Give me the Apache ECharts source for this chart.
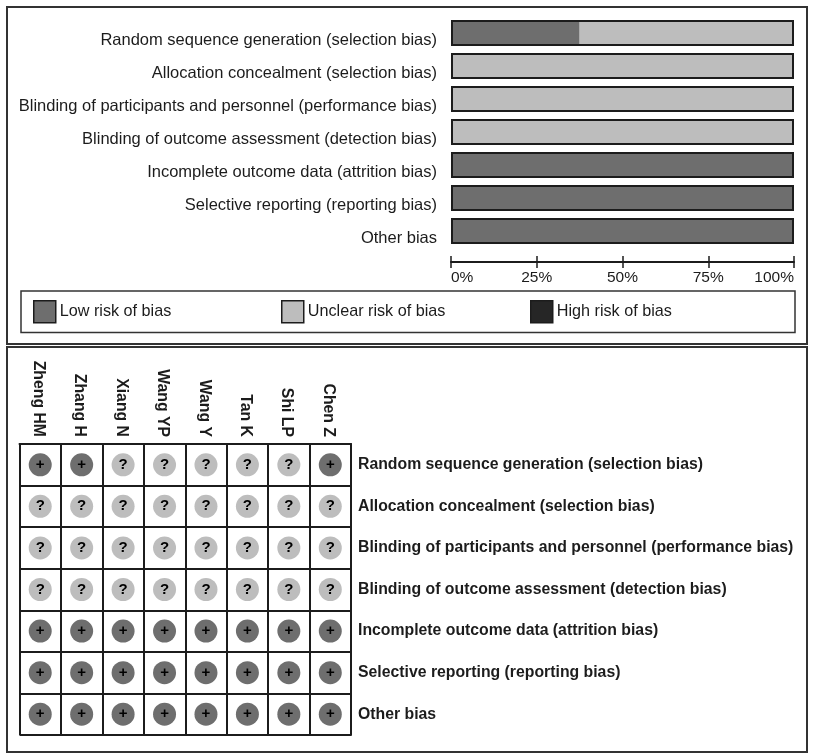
<!DOCTYPE html>
<html><head><meta charset="utf-8">
<style>html,body{margin:0;padding:0;background:#fff}#c{width:813px;height:755px}</style>
<script src="https://cdn.jsdelivr.net/npm/echarts@6/dist/echarts.min.js"></script>
</head><body><div id="c"></div>
<script>
const domains = ['Random sequence generation (selection bias)','Allocation concealment (selection bias)','Blinding of participants and personnel (performance bias)','Blinding of outcome assessment (detection bias)','Incomplete outcome data (attrition bias)','Selective reporting (reporting bias)','Other bias'];
const lowRisk = [37.5,0,0,0,100,100,100];
const unclearRisk = [62.5,100,100,100,0,0,0];
const highRisk = [0,0,0,0,0,0,0];
const outline = [100,100,100,100,100,100,100];
const percentTicks = [0,25,50,75,100];
const studies = ['Zheng HM','Zhang H','Xiang N','Wang YP','Wang Y','Tan K','Shi LP','Chen Z'];
const judgments = [
  ['+','+','?','?','?','?','?','+'],
  ['?','?','?','?','?','?','?','?'],
  ['?','?','?','?','?','?','?','?'],
  ['?','?','?','?','?','?','?','?'],
  ['+','+','+','+','+','+','+','+'],
  ['+','+','+','+','+','+','+','+'],
  ['+','+','+','+','+','+','+','+']
];
const LOW='#6e6e6e', UNCLEAR='#bdbdbd', HIGH='#262626', INK='#1c1c1c';
const FONT='"Liberation Sans",Arial,sans-serif';
const cells=(code)=>{const o=[];judgments.forEach((r,y)=>r.forEach((j,x)=>{if(j===code)o.push([x,y]);}));return o;};
const barSeries=(name,data,color)=>({name,type:'bar',stack:'risk',xAxisIndex:0,yAxisIndex:0,data,barWidth:26,itemStyle:{color},silent:true});
const dotSeries=(name,code,color,labelSize)=>({name,type:'scatter',xAxisIndex:2,yAxisIndex:1,data:cells(code),symbol:'circle',symbolSize:23,
  itemStyle:{color,opacity:1},silent:true,label:{show:true,position:'inside',formatter:code,color:'#000',textBorderWidth:0,fontFamily:FONT,fontWeight:'bold',fontSize:labelSize}});
const legendAt=(name,left)=>({data:[{name,icon:'rect'}],left,top:300,padding:0,itemWidth:22,itemHeight:22,itemGap:0,selectedMode:false,
  itemStyle:{borderColor:INK,borderWidth:1.5},textStyle:{fontFamily:FONT,fontSize:16.2,color:INK,verticalAlign:'top',lineHeight:5,padding:[0,0,0,-1]}});
const rect=(x,y,w,h,lw)=>({type:'rect',silent:true,z:-5,shape:{x,y,width:w,height:h},style:{fill:'#fff',stroke:'#333',lineWidth:lw}});
const chart=echarts.init(document.getElementById('c'),null,{renderer:'canvas'});
chart.setOption({
  animation:false,backgroundColor:'#fff',
  graphic:[rect(7,7,800,337,2),rect(7,347,800,405,2),rect(21,291,774,41.5,1.5)],
  legend:[legendAt('Low risk of bias',33),legendAt('Unclear risk of bias',281),legendAt('High risk of bias',530)],
  grid:[
    {left:451,top:16.5,width:343,height:231,outerBoundsMode:'none'},
    {left:19.5,top:444,width:331.5,height:291,show:false,outerBoundsMode:'none'}
  ],
  xAxis:[
    {gridIndex:0,type:'value',min:0,max:100,interval:25,position:'bottom',offset:14.5,splitLine:{show:false},
     axisLine:{show:true,onZero:false,lineStyle:{color:INK,width:2}},axisTick:{show:true,length:6,lineStyle:{color:INK,width:1.5}},
     axisLabel:{margin:8,formatter:'{value}%',fontFamily:FONT,fontSize:15.5,color:INK,alignMinLabel:'left',alignMaxLabel:'right',customValues:percentTicks}},
    {gridIndex:0,type:'value',min:0,max:100,interval:25,position:'bottom',offset:14.5,splitLine:{show:false},
     axisLine:{show:false},axisTick:{show:true,inside:true,length:6,lineStyle:{color:INK,width:1.5}},axisLabel:{show:false}},
    {gridIndex:1,type:'category',data:studies,position:'top',axisLine:{show:true,lineStyle:{color:INK,width:2}},axisTick:{show:false},
     splitLine:{show:true,lineStyle:{color:INK,width:2}},
     axisLabel:{rotate:90,margin:7,interval:0,fontFamily:FONT,fontSize:15.8,fontWeight:'bold',color:INK,verticalAlign:'top',lineHeight:4}}
  ],
  yAxis:[
    {gridIndex:0,type:'category',data:domains,inverse:true,axisLine:{show:false},axisTick:{show:false},
     axisLabel:{margin:14,interval:0,fontFamily:FONT,fontSize:16.5,color:INK,verticalAlign:'top',lineHeight:14}},
    {gridIndex:1,type:'category',data:domains,inverse:true,position:'right',axisLine:{show:true,lineStyle:{color:INK,width:2}},axisTick:{show:false},
     splitLine:{show:true,lineStyle:{color:INK,width:2}},
     axisLabel:{margin:7,interval:0,fontFamily:FONT,fontSize:15.8,fontWeight:'bold',color:INK}}
  ],
  series:[
    barSeries('Low risk of bias',lowRisk,LOW),
    barSeries('Unclear risk of bias',unclearRisk,UNCLEAR),
    barSeries('High risk of bias',highRisk,HIGH),
    {name:'outline',type:'bar',xAxisIndex:0,yAxisIndex:0,data:outline,barWidth:26,barGap:'-100%',z:5,silent:true,
     itemStyle:{color:'transparent',borderColor:INK,borderWidth:2}},
    dotSeries('Low risk judgment','+',LOW,15),
    dotSeries('Unclear risk judgment','?',UNCLEAR,15)
  ]
});
</script></body></html>
